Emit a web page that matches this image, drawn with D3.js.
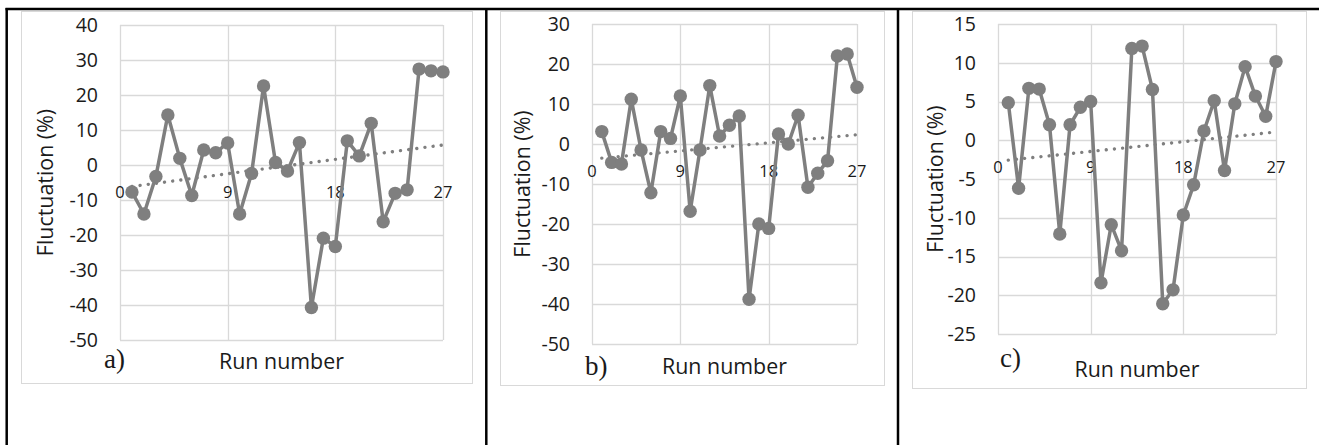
<!DOCTYPE html>
<html>
<head>
<meta charset="utf-8">
<script src="https://cdn.jsdelivr.net/npm/d3@7"></script>
<style>
  body { margin: 0; background: #fff; }
  svg { display: block; }
</style>
</head>
<body>
<svg id="fig" width="1319" height="445"></svg>
<script>
// Run numbers (x) and fluctuation values (%) for the three test series
const runs = [1, 2, 3, 4, 5, 6, 7, 8, 9, 10, 11, 12, 13, 14, 15, 16, 17, 18, 19, 20, 21, 22, 23, 24, 25, 26, 27];
const fluctA = [-7.7, -14.0, -3.3, 14.3, 1.9, -8.7, 4.3, 3.5, 6.3, -14.0, -2.4, 22.6, 0.7, -1.7, 6.4,
                -40.7, -20.9, -23.3, 6.9, 2.6, 11.9, -16.2, -8.1, -7.1, 27.4, 26.9, 26.6];
const fluctB = [3.1, -4.6, -5.0, 11.2, -1.5, -12.2, 3.1, 1.4, 12.0, -16.8, -1.5, 14.6, 2.0, 4.7, 7.0,
                -38.8, -20.0, -21.1, 2.5, 0.0, 7.2, -10.8, -7.3, -4.2, 22.0, 22.5, 14.2];
const fluctC = [4.85, -6.2, 6.7, 6.6, 2.0, -12.1, 2.0, 4.25, 5.0, -18.4, -10.9, -14.25, 11.85, 12.15, 6.55,
                -21.1, -19.3, -9.65, -5.75, 1.2, 5.1, -3.9, 4.7, 9.5, 5.7, 3.1, 10.15];

const xTicks = [0, 9, 18, 27];
const yTicksA = [40, 30, 20, 10, 0, -10, -20, -30, -40, -50];
const yTicksB = [30, 20, 10, 0, -10, -20, -30, -40, -50];
const yTicksC = [15, 10, 5, 0, -5, -10, -15, -20, -25];

const panelLabels = ["a)", "b)", "c)"];
const yTitle = "Fluctuation (%)";
const xTitle = "Run number";

const GREY = "#7f7f7f";
const GRID = "#d9d9d9";
const TEXT = "#1a1a1a";
const FONT = "'Open Sans', sans-serif";

// Layout of each chart inside its table cell
const panels = [
  { values: fluctA, yTicks: yTicksA, label: panelLabels[0],
    frame: { x: 21, y: 11, w: 451, h: 372 },
    plot: { l: 120, r: 443, t: 25, b: 340 },
    labelPos: [104, 368], xTitleY: 369, yTitleX: 44 },
  { values: fluctB, yTicks: yTicksB, label: panelLabels[1],
    frame: { x: 500, y: 11, w: 384, h: 374 },
    plot: { l: 592, r: 857, t: 24, b: 344 },
    labelPos: [585, 375], xTitleY: 374, yTitleX: 521 },
  { values: fluctC, yTicks: yTicksC, label: panelLabels[2],
    frame: { x: 912, y: 11, w: 394, h: 377 },
    plot: { l: 998, r: 1276, t: 24, b: 334 },
    labelPos: [1000, 367], xTitleY: 377, yTitleX: 934 }
];

const svg = d3.select("#fig");
svg.append("rect").attr("width", 1319).attr("height", 445).attr("fill", "#fff");

// Least-squares linear trend of a series
function linearFit(xs, ys) {
  const mx = d3.mean(xs), my = d3.mean(ys);
  let sxy = 0, sxx = 0;
  xs.forEach((x, i) => { sxy += (x - mx) * (ys[i] - my); sxx += (x - mx) * (x - mx); });
  const slope = sxy / sxx;
  return x => my + slope * (x - mx);
}

// plain hyphen-minus for negative tick labels
const plainNumber = d => String(d);

panels.forEach(p => {
  const g = svg.append("g");
  const x = d3.scaleLinear().domain([0, 27]).range([p.plot.l, p.plot.r]);
  const y = d3.scaleLinear().domain(d3.extent(p.yTicks)).range([p.plot.b, p.plot.t]);

  // chart area border
  g.append("rect")
    .attr("x", p.frame.x + 0.5).attr("y", p.frame.y + 0.5)
    .attr("width", p.frame.w).attr("height", p.frame.h)
    .attr("fill", "#fff").attr("stroke", GRID).attr("stroke-width", 1);

  // gridlines
  g.append("g").selectAll("line").data(p.yTicks).join("line")
    .attr("x1", x(0)).attr("x2", x(27))
    .attr("y1", d => Math.round(y(d)) + 0.5).attr("y2", d => Math.round(y(d)) + 0.5)
    .attr("stroke", GRID).attr("stroke-width", 1.3);
  g.append("g").selectAll("line").data(xTicks).join("line")
    .attr("x1", d => Math.round(x(d)) + 0.5).attr("x2", d => Math.round(x(d)) + 0.5)
    .attr("y1", y.range()[1]).attr("y2", y.range()[0])
    .attr("stroke", GRID).attr("stroke-width", 1.3);

  // y-axis tick labels
  const yAxis = d3.axisLeft(y).tickValues(p.yTicks).tickSize(0).tickPadding(22).tickFormat(plainNumber);
  const ya = g.append("g").attr("transform", `translate(${x(0)},0)`).call(yAxis);
  ya.select(".domain").remove();
  ya.selectAll("text").attr("font-family", FONT).attr("font-size", 19.5).attr("fill", TEXT);

  // x-axis tick labels, set just under the zero line
  g.append("g").selectAll("text").data(xTicks).join("text")
    .attr("x", d => x(d)).attr("y", y(0) + 33)
    .attr("text-anchor", "middle")
    .attr("font-family", FONT).attr("font-size", 16.5).attr("fill", TEXT)
    .text(plainNumber);

  // linear trendline (dotted)
  const fit = linearFit(runs, p.values);
  g.append("line")
    .attr("x1", x(runs[0])).attr("y1", y(fit(runs[0])))
    .attr("x2", x(runs[runs.length - 1])).attr("y2", y(fit(runs[runs.length - 1])))
    .attr("stroke", GREY).attr("stroke-width", 3.4)
    .attr("stroke-linecap", "round").attr("stroke-dasharray", "0.01 8.2");

  // series line and markers
  const pts = runs.map((r, i) => [r, p.values[i]]);
  g.append("path")
    .attr("d", d3.line().x(d => x(d[0])).y(d => y(d[1]))(pts))
    .attr("fill", "none").attr("stroke", GREY).attr("stroke-width", 3.5)
    .attr("stroke-linejoin", "round");
  g.append("g").selectAll("circle").data(pts).join("circle")
    .attr("cx", d => x(d[0])).attr("cy", d => y(d[1])).attr("r", 6.7)
    .attr("fill", GREY);

  // axis titles
  g.append("text")
    .attr("transform", `translate(${p.yTitleX},${(p.plot.t + p.plot.b) / 2}) rotate(-90)`)
    .attr("text-anchor", "middle").attr("dominant-baseline", "central")
    .attr("font-family", FONT).attr("font-size", 21.4).attr("fill", TEXT)
    .text(yTitle);
  g.append("text")
    .attr("x", (p.plot.l + p.plot.r) / 2).attr("y", p.xTitleY)
    .attr("text-anchor", "middle")
    .attr("font-family", FONT).attr("font-size", 21.4).attr("fill", TEXT)
    .text(xTitle);

  // panel letter
  g.append("text")
    .attr("x", p.labelPos[0]).attr("y", p.labelPos[1])
    .attr("font-family", "'Liberation Serif', 'Times New Roman', serif")
    .attr("font-size", 27).attr("fill", TEXT)
    .text(p.label);
});

// table rules around the three cells
const rules = svg.append("g").attr("stroke", "#000");
rules.append("line").attr("x1", 5.5).attr("x2", 1319).attr("y1", 9).attr("y2", 9).attr("stroke-width", 2.5);
rules.append("line").attr("x1", 6.7).attr("x2", 6.7).attr("y1", 8).attr("y2", 445).attr("stroke-width", 2.5);
rules.append("line").attr("x1", 486.3).attr("x2", 486.3).attr("y1", 8).attr("y2", 445).attr("stroke-width", 2.5);
rules.append("line").attr("x1", 898).attr("x2", 898).attr("y1", 8).attr("y2", 445).attr("stroke-width", 2.5);
</script>
</body>
</html>
